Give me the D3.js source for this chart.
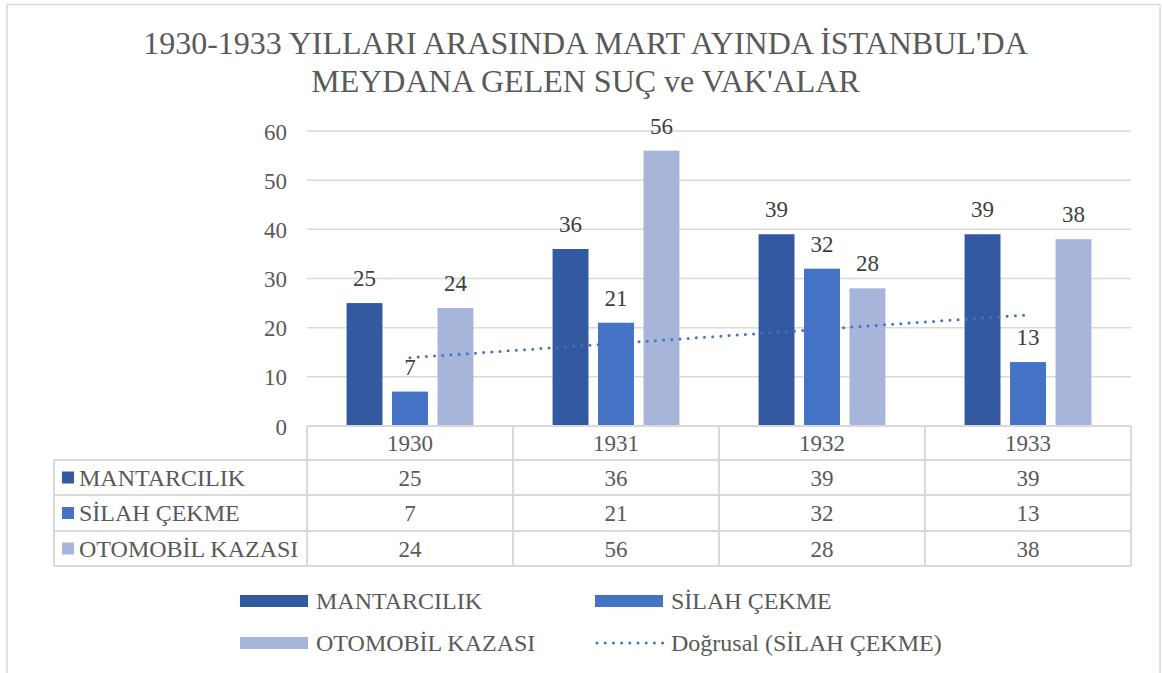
<!DOCTYPE html>
<html>
<head>
<meta charset="utf-8">
<script src="https://cdn.jsdelivr.net/npm/d3@7"></script>
</head>
<body style="margin:0;background:#fff">
<svg id="chart" width="1162" height="673"></svg>
<script>
// Years on the category axis
const years = ["1930", "1931", "1932", "1933"];
// Series names and colours
const seriesNames = ["MANTARCILIK", "SİLAH ÇEKME", "OTOMOBİL KAZASI"];
const seriesColors = ["#335AA1", "#4472C4", "#A8B5DA"];
// Yearly counts per series
const mantarcilik = [25, 36, 39, 39];
const silahCekme = [7, 21, 32, 13];
const otomobilKazasi = [24, 56, 28, 38];
// Value axis ticks
const yTicks = [0, 10, 20, 30, 40, 50, 60];
const titleLines = ["1930-1933 YILLARI ARASINDA MART AYINDA İSTANBUL'DA", "MEYDANA GELEN SUÇ ve VAK'ALAR"];
const trendLabel = "Doğrusal (SİLAH ÇEKME)";

const seriesValues = [mantarcilik, silahCekme, otomobilKazasi];

const svg = d3.select("#chart");
const serif = "'Liberation Serif'";
const gridColor = "#D9D9D9";
const textGray = "#595959";
const numSize = 23;
const nameSize = 24;

// Chart frame
svg.append("rect")
  .attr("x", 7).attr("y", 4.5)
  .attr("width", 1153).attr("height", 700)
  .attr("fill", "none").attr("stroke", gridColor).attr("stroke-width", 1.5);

// Title
svg.append("g").selectAll("text").data(titleLines).join("text")
  .attr("x", 585.5).attr("y", (d, i) => 54 + i * 38)
  .attr("text-anchor", "middle")
  .attr("font-size", 32).attr("fill", textGray)
  .text(d => d);

// Scales
const plotLeft = 307, plotRight = 1131, plotTop = 131, plotBottom = 426;
const x0 = d3.scaleBand().domain(years).range([plotLeft, plotRight]).padding(0);
const x1 = d3.scaleBand().domain(d3.range(seriesNames.length))
  .range([0, x0.bandwidth()]).paddingInner(0.21).paddingOuter(0.87);
const y = d3.scaleLinear().domain([0, 60]).range([plotBottom, plotTop]);

// Horizontal gridlines
svg.append("g").selectAll("line").data(yTicks.filter(t => t > 0)).join("line")
  .attr("x1", plotLeft).attr("x2", plotRight)
  .attr("y1", d => y(d)).attr("y2", d => y(d))
  .attr("stroke", gridColor).attr("stroke-width", 1.5);

// Value axis labels
const yAxis = d3.axisLeft(y).tickValues(yTicks).tickSize(0).tickPadding(0);
const yAxisG = svg.append("g").attr("transform", "translate(287,0)").call(yAxis);
yAxisG.select(".domain").remove();
yAxisG.selectAll("text")
  .attr("font-size", numSize).attr("fill", textGray).attr("dy", "0.35em");

// Bars
const groups = svg.append("g").selectAll("g").data(years).join("g")
  .attr("transform", d => `translate(${x0(d)},0)`);
groups.selectAll("rect")
  .data((yr, i) => seriesValues.map((vals, s) => ({ s, v: vals[i] })))
  .join("rect")
  .attr("x", d => x1(d.s)).attr("width", x1.bandwidth())
  .attr("y", d => y(d.v)).attr("height", d => y(0) - y(d.v))
  .attr("fill", d => seriesColors[d.s]);

// Linear trendline for SİLAH ÇEKME (least squares over year index)
const xs = years.map((d, i) => i + 1);
const mx = d3.mean(xs), my = d3.mean(silahCekme);
const slope = d3.sum(xs, (xv, i) => (xv - mx) * (silahCekme[i] - my)) / d3.sum(xs, xv => (xv - mx) ** 2);
const intercept = my - slope * mx;
const trendPts = [0, years.length - 1].map(i => [x0(years[i]) + x0.bandwidth() / 2, y(intercept + slope * (i + 1))]);
svg.append("path")
  .attr("d", d3.line()(trendPts))
  .attr("fill", "none").attr("stroke", "#4472C4")
  .attr("stroke-width", 3).attr("stroke-linecap", "round")
  .attr("stroke-dasharray", "0 8.2");

// Data labels
groups.selectAll("text.val")
  .data((yr, i) => seriesValues.map((vals, s) => ({ s, v: vals[i] })))
  .join("text").attr("class", "val")
  .attr("x", d => x1(d.s) + x1.bandwidth() / 2)
  .attr("y", d => y(d.v) - 17)
  .attr("text-anchor", "middle")
  .attr("font-size", numSize).attr("fill", "#404040")
  .text(d => d.v);

// Data table under the axis
const tableLeft = 54;
const rowEdges = [426, 460, 495, 531, 566];
const table = svg.append("g");
// horizontal rules
table.append("line").attr("x1", plotLeft).attr("x2", plotRight)
  .attr("y1", rowEdges[0]).attr("y2", rowEdges[0])
  .attr("stroke", gridColor).attr("stroke-width", 2);
table.selectAll("line.h").data(rowEdges.slice(1)).join("line").attr("class", "h")
  .attr("x1", tableLeft).attr("x2", plotRight)
  .attr("y1", d => d).attr("y2", d => d)
  .attr("stroke", gridColor).attr("stroke-width", 2);
// vertical rules
table.append("line").attr("x1", tableLeft).attr("x2", tableLeft)
  .attr("y1", rowEdges[1]).attr("y2", rowEdges[4])
  .attr("stroke", gridColor).attr("stroke-width", 2);
const colEdges = years.map(d => x0(d)).concat([plotRight]);
table.selectAll("line.v").data(colEdges).join("line").attr("class", "v")
  .attr("x1", d => d).attr("x2", d => d)
  .attr("y1", rowEdges[0]).attr("y2", rowEdges[4])
  .attr("stroke", gridColor).attr("stroke-width", 2);
// header: years
table.selectAll("text.yr").data(years).join("text").attr("class", "yr")
  .attr("x", d => x0(d) + x0.bandwidth() / 2)
  .attr("y", (rowEdges[0] + rowEdges[1]) / 2).attr("dy", "0.35em")
  .attr("text-anchor", "middle").attr("font-size", numSize).attr("fill", textGray)
  .text(d => d);
// series rows
seriesNames.forEach((name, s) => {
  const cy = (rowEdges[s + 1] + rowEdges[s + 2]) / 2;
  table.append("rect").attr("x", 62).attr("y", cy - 6).attr("width", 12).attr("height", 12)
    .attr("fill", seriesColors[s]);
  table.append("text").attr("x", 79).attr("y", cy).attr("dy", "0.35em")
    .attr("font-size", nameSize).attr("fill", textGray).text(name);
  table.selectAll("text.r" + s).data(seriesValues[s]).join("text").attr("class", "r" + s)
    .attr("x", (d, i) => x0(years[i]) + x0.bandwidth() / 2)
    .attr("y", cy).attr("dy", "0.35em")
    .attr("text-anchor", "middle").attr("font-size", numSize).attr("fill", textGray)
    .text(d => d);
});

// Legend
const legendItems = [
  { label: seriesNames[0], color: seriesColors[0], type: "bar", x: 240, y: 601 },
  { label: seriesNames[1], color: seriesColors[1], type: "bar", x: 595, y: 601 },
  { label: seriesNames[2], color: seriesColors[2], type: "bar", x: 240, y: 643 },
  { label: trendLabel, color: "#4472C4", type: "trend", x: 595, y: 643 }
];
const legend = svg.append("g");
legendItems.forEach(it => {
  if (it.type === "bar") {
    legend.append("rect").attr("x", it.x).attr("y", it.y - 6)
      .attr("width", 68).attr("height", 12).attr("fill", it.color);
  } else {
    legend.append("line").attr("x1", it.x + 2).attr("x2", it.x + 68)
      .attr("y1", it.y).attr("y2", it.y)
      .attr("stroke", it.color).attr("stroke-width", 3)
      .attr("stroke-linecap", "round").attr("stroke-dasharray", "0 8.2");
  }
  legend.append("text").attr("x", it.x + 76).attr("y", it.y + 8)
    .attr("font-size", nameSize).attr("fill", textGray).text(it.label);
});

// Serif face on every text element
svg.selectAll("text").style("font-family", serif);
</script>
</body>
</html>
